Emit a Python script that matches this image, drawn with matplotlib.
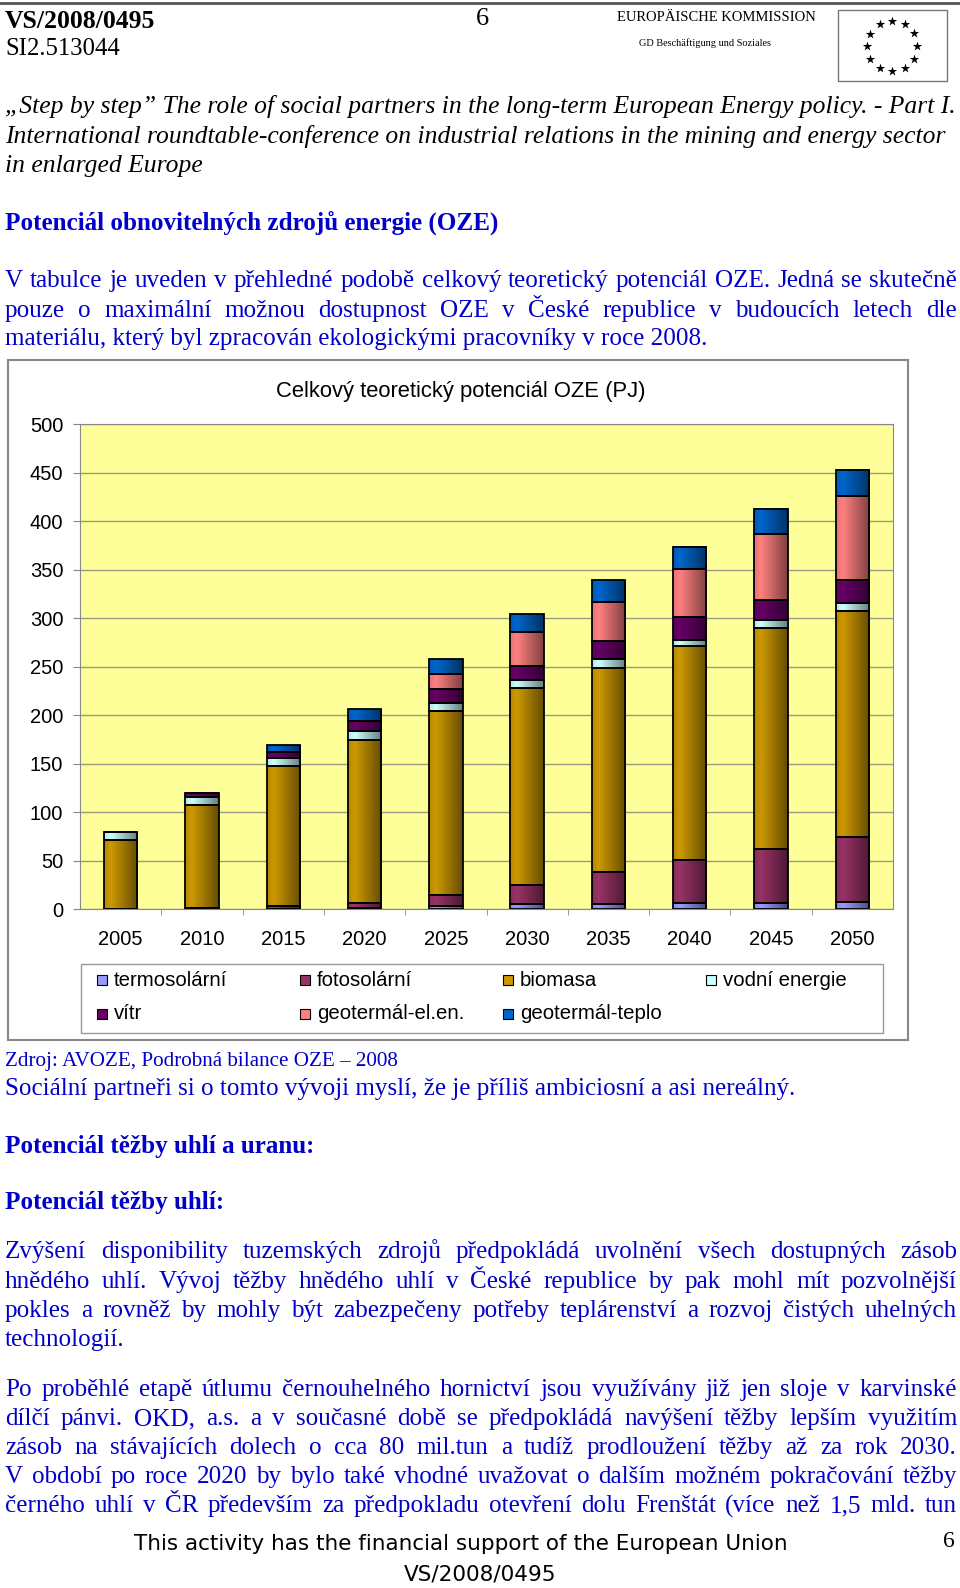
import numpy as np
import matplotlib
matplotlib.use("Agg")
import matplotlib.pyplot as plt
from matplotlib.colors import LinearSegmentedColormap, to_rgb
from matplotlib.patches import Rectangle

# hodnoty (PJ)
years = ["2005", "2010", "2015", "2020", "2025", "2030", "2035", "2040", "2045", "2050"]
series_names = ["termosolární", "fotosolární", "biomasa", "vodní energie",
                "vítr", "geotermál-el.en.", "geotermál-teplo"]
termosolarni = [0, 0, 0.5, 1, 3, 5, 5, 6, 6, 8]
fotosolarni = [0, 1, 2.5, 6, 12, 20, 33, 45, 56, 67]
biomasa = [71, 107, 145, 168, 189, 203, 211, 220, 228, 233]
vodni = [9, 8, 8, 9, 9, 8, 9, 7, 8, 8]
vitr = [0, 4, 6, 10, 14, 15, 19, 23, 21, 24]
geotermal_el = [0, 0, 0, 0, 16, 35, 40, 50, 68, 86]
geotermal_teplo = [0, 0, 7, 12, 15, 18, 22, 23, 26, 27]
series_colors = ["#9999FF", "#993366", "#CC9900", "#CCFFFF", "#660066", "#FF8080", "#0066CC"]

W, H = 960, 1588
BLUE = "#0000C8"
SERIF = "Liberation Serif"
SANS = "Liberation Sans"

fig = plt.figure(figsize=(W / 100, H / 100), dpi=100)
page = fig.add_axes([0, 0, 1, 1])
page.set_xlim(0, W)
page.set_ylim(H, 0)
page.axis("off")
renderer = fig.canvas.get_renderer()


def text_width(s, size, **kw):
    t = page.text(0, 0, s, fontsize=size, **kw)
    w = t.get_window_extent(renderer).width
    t.remove()
    return w


def fit_size(s, target, **kw):
    return 20 * target / text_width(s, 20, **kw)


def put(s, x, yc, size, justify_to=None, **kw):
    # yc = vizuální střed řádku, převod na účaří
    yb = yc + 0.3 * size * 100 / 72
    if justify_to is None:
        page.text(x, yb, s, fontsize=size, va="baseline", **kw)
        return
    words = s.split(" ")
    objs = [page.text(0, yb, w, fontsize=size, va="baseline", **kw) for w in words]
    widths = [o.get_window_extent(renderer).width for o in objs]
    gap = (justify_to - x - sum(widths)) / (len(words) - 1)
    pos = x
    for o, w in zip(objs, widths):
        o.set_x(pos)
        pos += w + gap


# hlavička stránky
page.plot([0, W], [3, 3], color="#555555", lw=2)
put("VS/2008/0495", 5, 20, 18.5, family=SERIF, weight="bold")
put("SI2.513044", 5, 47.6, 17.8, family=SERIF)
put("6", 476, 17, 19, family=SERIF)
put("EUROPÄISCHE KOMMISSION", 617, 17, 10.5, family=SERIF)
put("GD Beschäftigung und Soziales", 639, 42.5, 7.4, family=SERIF)
page.add_patch(Rectangle((838, 10), 109, 71, fill=False, ec="#777777", lw=1))
ang = np.deg2rad(np.arange(0, 360, 30))
page.scatter(892 + 25 * np.cos(ang), 46 + 25 * np.sin(ang), marker="*", s=50, color="black", lw=0)

# úvodní kurzíva
it_lines = ["„Step by step” The role of social partners in the long-term European Energy policy. - Part I.",
            "International roundtable-conference on industrial relations in the mining and energy sector",
            "in enlarged Europe"]
it_size = fit_size(it_lines[0], 952, family=SERIF, style="italic")
for s, y in zip(it_lines, [105, 135, 164]):
    put(s, 5, y, it_size, family=SERIF, style="italic")

hd_size = fit_size("Potenciál obnovitelných zdrojů energie (OZE)", 493, family=SERIF, weight="bold")
put("Potenciál obnovitelných zdrojů energie (OZE)", 5, 222, hd_size, family=SERIF, weight="bold", color=BLUE)

body_size = fit_size("materiálu, který byl zpracován ekologickými pracovníky v roce 2008.", 702, family=SERIF)
RIGHT = 957
para1 = ["V tabulce je uveden v přehledné podobě celkový teoretický potenciál OZE. Jedná se skutečně",
         "pouze o maximální možnou dostupnost OZE v České republice v budoucích letech dle",
         "materiálu, který byl zpracován ekologickými pracovníky v roce 2008."]
for i, (s, y) in enumerate(zip(para1, [279.5, 309, 337.2])):
    put(s, 5, y, body_size, justify_to=RIGHT if i < 2 else None, family=SERIF, color=BLUE)

# rámeček grafu
page.add_patch(Rectangle((8, 360), 900, 680, fill=False, ec="#888888", lw=1.5))
page.text(461, 391, "Celkový teoretický potenciál OZE (PJ)", fontsize=15.8, family=SANS,
          ha="center", va="center")

# graf
ax = fig.add_axes([80 / W, 1 - 909.3 / H, 813 / W, 485 / H])
ax.set_facecolor("#FFFF99")
x = np.arange(len(years))
data = [termosolarni, fotosolarni, biomasa, vodni, vitr, geotermal_el, geotermal_teplo]
bottom = np.zeros(len(years))
for vals, col, name in zip(data, series_colors, series_names):
    vals = np.array(vals, dtype=float)
    bars = ax.bar(x, vals, 0.41, bottom=bottom, facecolor="none", edgecolor="black",
                  linewidth=1.3, zorder=3, label=name)
    base = np.array(to_rgb(col))
    cmap = LinearSegmentedColormap.from_list(name, [(0, base * 0.9), (0.2, base), (1, base * 0.5)])
    for b in bars:
        if b.get_height() <= 0:
            continue
        x0, y0 = b.get_x(), b.get_y()
        ax.imshow(np.linspace(0, 1, 64).reshape(1, -1), extent=(x0, x0 + b.get_width(), y0, y0 + b.get_height()),
                  cmap=cmap, aspect="auto", interpolation="bilinear", zorder=2.5)
    bottom += vals

ax.set_xlim(-0.5, len(years) - 0.5)
ax.set_ylim(0, 500)
ax.set_yticks(np.arange(0, 501, 50))
ax.set_xticks(x)
ax.set_xticklabels(years)
ax.set_xticks(np.arange(0.5, len(years) - 0.5), minor=True)
ax.yaxis.grid(True, color="#9a9a80", lw=1, zorder=1)
ax.set_axisbelow(True)
ax.tick_params(axis="x", which="major", length=0, pad=15, labelsize=14.5)
ax.tick_params(axis="x", which="minor", length=4, color="#888888")
ax.tick_params(axis="y", length=5, color="#888888", pad=7, labelsize=14.5)
for lab in ax.get_xticklabels() + ax.get_yticklabels():
    lab.set_family(SANS)
for sp in ax.spines.values():
    sp.set_color("#888888")

# legenda
page.add_patch(Rectangle((81, 964), 802, 69, fill=False, ec="#999999", lw=1))
for i, (name, col) in enumerate(zip(series_names, series_colors)):
    cx = 97 + (i % 4) * 203
    cy = 980.3 + (i // 4) * 33.4
    page.add_patch(Rectangle((cx, cy - 5), 10, 10, facecolor=col, edgecolor="black", lw=0.8))
    page.text(cx + 17, cy, name, fontsize=14.7, family=SANS, va="center")

# text pod grafem
zd_size = fit_size("Zdroj: AVOZE, Podrobná bilance OZE – 2008", 393, family=SERIF)
put("Zdroj: AVOZE, Podrobná bilance OZE – 2008", 5, 1059.3, zd_size, family=SERIF, color=BLUE)
put("Sociální partneři si o tomto vývoji myslí, že je příliš ambiciosní a asi nereálný.", 5, 1087.6,
    body_size, family=SERIF, color=BLUE)
put("Potenciál těžby uhlí a uranu:", 5, 1145.4, hd_size, family=SERIF, weight="bold", color=BLUE)
put("Potenciál těžby uhlí:", 5, 1201, hd_size, family=SERIF, weight="bold", color=BLUE)

para2 = ["Zvýšení disponibility tuzemských zdrojů předpokládá uvolnění všech dostupných zásob",
         "hnědého uhlí. Vývoj těžby hnědého uhlí v České republice by pak mohl mít pozvolnější",
         "pokles a rovněž by mohly být zabezpečeny potřeby teplárenství a rozvoj čistých uhelných",
         "technologií."]
for i, (s, y) in enumerate(zip(para2, [1250.7, 1280, 1309.4, 1338.8])):
    put(s, 5, y, body_size, justify_to=RIGHT if i < 3 else None, family=SERIF, color=BLUE)

para3 = ["Po proběhlé etapě útlumu černouhelného hornictví jsou využívány již jen sloje v karvinské",
         "dílčí pánvi. OKD, a.s. a v současné době se předpokládá navýšení těžby lepším využitím",
         "zásob na stávajících dolech o cca 80 mil.tun a tudíž prodloužení těžby až za rok 2030.",
         "V období po roce 2020 by bylo také vhodné uvažovat o dalším možném pokračování těžby",
         "černého uhlí v ČR především za předpokladu otevření dolu Frenštát (více než 1,5 mld. tun"]
for s, y in zip(para3, [1388.4, 1417.8, 1446.1, 1475.5, 1504.9]):
    put(s, 5, y, body_size, justify_to=RIGHT, family=SERIF, color=BLUE)

# patička
ft = "This activity has the financial support of the European Union"
ft_size = fit_size(ft, 653, family="DejaVu Sans")
page.text(461, 1544.4, ft, fontsize=ft_size, family="DejaVu Sans", ha="center", va="center")
page.text(480, 1574.8, "VS/2008/0495", fontsize=ft_size, family="DejaVu Sans", ha="center", va="center")
page.text(949, 1541.3, "6", fontsize=17, family=SERIF, ha="center", va="center")

fig.savefig("out.png", dpi=100)
